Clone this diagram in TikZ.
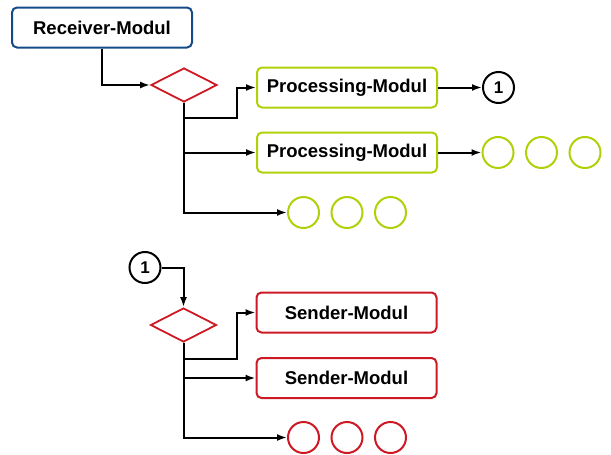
\documentclass[tikz,border=0pt]{standalone}
\usepackage{fontspec}
\setmainfont{Liberation Sans}
\usetikzlibrary{shapes.geometric,arrows.meta}
\definecolor{cblue}{RGB}{20,75,135}
\definecolor{cgreen}{RGB}{178,208,10}
\definecolor{cred}{RGB}{205,25,35}
\tikzset{
  modbox/.style={draw,rounded corners=5pt,line width=2pt,minimum width=180pt,minimum height=40pt,inner sep=0pt,
    font=\fontsize{18.5}{20}\selectfont\bfseries},
  dec/.style={draw=cred,shape=diamond,line width=1.8pt,minimum width=66pt,minimum height=34pt,inner sep=0pt},
  ring/.style={draw,circle,line width=2pt,minimum size=31pt,inner sep=0pt,font=\fontsize{17}{18}\selectfont\bfseries},
  arr/.style={line width=2pt,-{Latex[length=10pt,width=7pt]}},
}
\begin{document}
\begin{tikzpicture}[x=1pt,y=-1pt]
\useasboundingbox (0,0) rectangle (611,455);
% top part
\node[modbox,draw=cblue] (recv) at (102,27.5) {Receiver-Modul};
\node[dec] (d1) at (184,85) {};
\node[modbox,draw=cgreen] (p1) at (347,87.5) {Processing-Modul};
\node[modbox,draw=cgreen] (p2) at (347,152.5) {Processing-Modul};
\node[ring] (c1) at (498.5,87.5) {1};
\node[ring,draw=cgreen] (g1) at (498,152.5) {};
\node[ring,draw=cgreen] (g2) at (541.5,152.5) {};
\node[ring,draw=cgreen] (g3) at (585,152.5) {};
\node[ring,draw=cgreen] (g4) at (303.5,212.5) {};
\node[ring,draw=cgreen] (g5) at (347,212.5) {};
\node[ring,draw=cgreen] (g6) at (390.5,212.5) {};
\coordinate (b1) at (237,118);
\draw[arr] (recv.south) |- (d1.west);
\draw[arr] (d1.south) |- (b1) |- (p1.west);
\draw[arr] (d1.south) |- (p2.west);
\draw[arr] (d1.south) |- (g4.west);
\draw[arr] (p1.east) -- (c1.west);
\draw[arr] (p2.east) -- (g1.west);
% bottom part
\node[ring] (c2) at (145,267.5) {1};
\node[dec] (d2) at (183.5,325) {};
\node[modbox,draw=cred] (s1) at (346.5,312.5) {Sender-Modul};
\node[modbox,draw=cred] (s2) at (346.5,378) {Sender-Modul};
\node[ring,draw=cred] (r1) at (303.5,437.5) {};
\node[ring,draw=cred] (r2) at (347,437.5) {};
\node[ring,draw=cred] (r3) at (390.5,437.5) {};
\coordinate (b2) at (237,358.5);
\draw[arr] (c2.east) -| (d2.north);
\draw[arr] (d2.south) |- (b2) |- (s1.west);
\draw[arr] (d2.south) |- (s2.west);
\draw[arr] (d2.south) |- (r1.west);
\end{tikzpicture}
\end{document}
